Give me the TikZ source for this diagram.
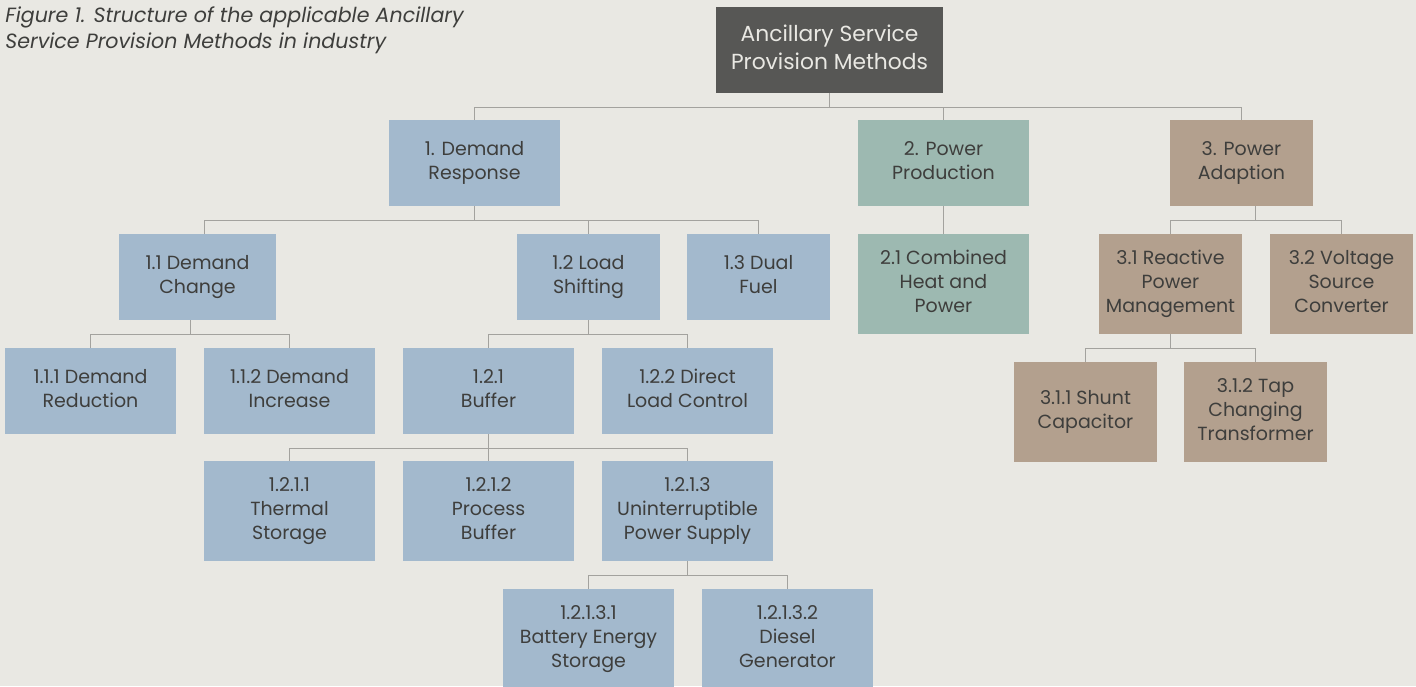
\documentclass[tikz,border=0pt]{standalone}
\usepackage{fontspec}
\setmainfont{Poppins}

\definecolor{bgc}{HTML}{E9E8E3}
\definecolor{rootc}{HTML}{575755}
\definecolor{bluec}{HTML}{A3B9CD}
\definecolor{greenc}{HTML}{9DB9B1}
\definecolor{brownc}{HTML}{B3A08E}
\definecolor{txtc}{HTML}{3E3E3C}
\definecolor{linec}{HTML}{A3A29E}

\begin{document}
\begin{tikzpicture} [x=0.5pt,y=-0.5pt,
  box/.style={rectangle, inner sep=0pt, align=center, text=txtc, text depth=2.5pt, font=\fontsize{9.5}{12}\selectfont},
  wide/.style={minimum width=85.5pt},
  narrow/.style={minimum width=71.5pt},
  short/.style={minimum height=43pt},
  tall/.style={minimum height=50pt},
  dr/.style={box, fill=bluec},
  pp/.style={box, fill=greenc},
  pa/.style={box, fill=brownc}]

  \fill[bgc] (0,0) rectangle (1416,686);
  \useasboundingbox (0,0) rectangle (1416,686);

  \node (cap) [anchor=north west, align=left, text=txtc, inner sep=0pt, font=\fontsize{10.3}{13}\selectfont\itshape] at (5,6)
    {Figure 1. Structure of the applicable Ancillary\\Service Provision Methods in industry};

  \node (n0) [box, fill=rootc, text=bgc, minimum width=113.5pt, short, font=\fontsize{10.9}{13.8}\selectfont] at (829.5,50) {Ancillary Service\\Provision Methods};

  \node (n1) [dr, wide, short] at (474.5,163) {1. Demand\\Response};
  \node (n2) [pp, wide, short] at (943.5,163) {2. Power\\Production};
  \node (n3) [pa, narrow, short] at (1241.5,163) {3. Power\\Adaption};

  \node (n11) [dr, short, minimum width=78.5pt] at (197.5,277) {1.1 Demand\\Change};
  \node (n12) [dr, narrow, short] at (588.5,277) {1.2 Load\\Shifting};
  \node (n13) [dr, narrow, short] at (758.5,277) {1.3 Dual\\Fuel};
  \node (n21) [pp, wide, tall] at (943.5,284) {2.1 Combined\\Heat and\\Power};
  \node (n31) [pa, narrow, tall] at (1170.5,284) {3.1 Reactive\\Power\\Management};
  \node (n32) [pa, narrow, tall] at (1341.5,284) {3.2 Voltage\\Source\\Converter};

  \node (n111) [dr, wide, short] at (90.5,391) {1.1.1 Demand\\Reduction};
  \node (n112) [dr, wide, short] at (289.5,391) {1.1.2 Demand\\Increase};
  \node (n121) [dr, wide, short] at (488.5,391) {1.2.1\\Buffer};
  \node (n122) [dr, wide, short] at (687.5,391) {1.2.2 Direct\\Load Control};
  \node (n311) [pa, narrow, tall] at (1085.5,412) {3.1.1 Shunt\\Capacitor};
  \node (n312) [pa, narrow, tall] at (1255.5,412) {3.1.2 Tap\\Changing\\Transformer};

  \node (n1211) [dr, wide, tall] at (289.5,511) {1.2.1.1\\Thermal\\Storage};
  \node (n1212) [dr, wide, tall] at (488.5,511) {1.2.1.2\\Process\\Buffer};
  \node (n1213) [dr, wide, tall] at (687.5,511) {1.2.1.3\\Uninterruptible\\Power Supply};

  \node (n12131) [dr, wide, tall] at (588.5,639) {1.2.1.3.1\\Battery Energy\\Storage};
  \node (n12132) [dr, wide, tall] at (787.5,639) {1.2.1.3.2\\Diesel\\Generator};

  \path[every edge/.style={draw=linec, line width=0.7pt, to path={-- ++(0,14) -| (\tikztotarget)}}]
    (n0.south) edge (n1.north)
    (n0.south) edge (n2.north)
    (n0.south) edge (n3.north)
    (n1.south) edge ([xshift=3.5pt]n11.north)
    (n1.south) edge (n12.north)
    (n1.south) edge (n13.north)
    (n2.south) edge (n21.north)
    ([xshift=7pt]n3.south) edge (n31.north)
    ([xshift=7pt]n3.south) edge (n32.north)
    ([xshift=-3.5pt]n11.south) edge (n111.north)
    ([xshift=-3.5pt]n11.south) edge (n112.north)
    (n12.south) edge (n121.north)
    (n12.south) edge (n122.north)
    (n31.south) edge (n311.north)
    (n31.south) edge (n312.north)
    (n121.south) edge (n1211.north)
    (n121.south) edge (n1212.north)
    (n121.south) edge (n1213.north)
    (n1213.south) edge (n12131.north)
    (n1213.south) edge (n12132.north);

\end{tikzpicture}
\end{document}
